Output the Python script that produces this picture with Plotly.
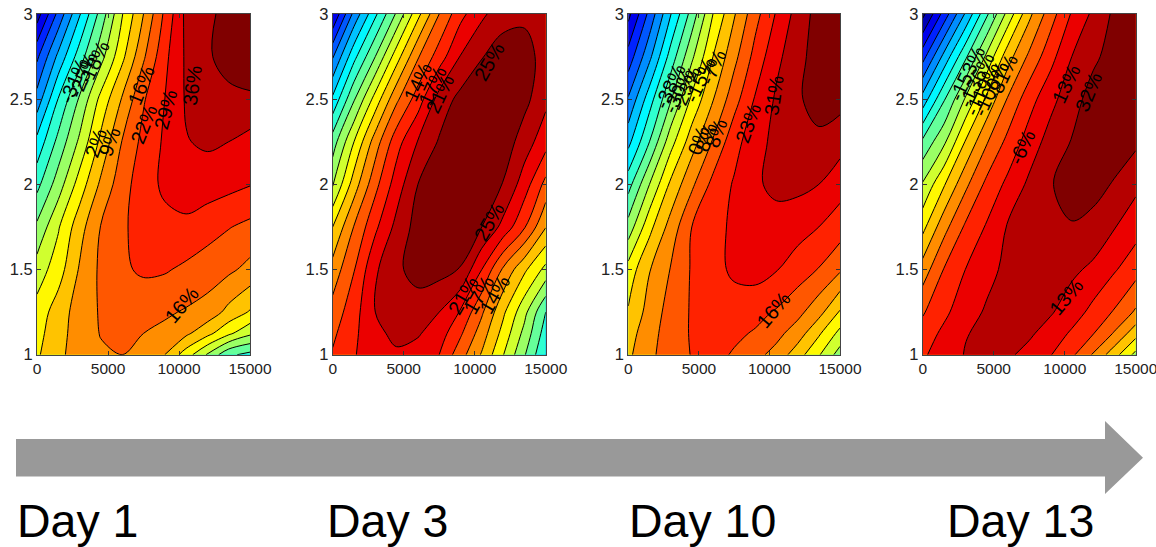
import plotly.graph_objects as go

# Contour-band number at each grid node (band k lies between lines k and k+1)
x_values = [0, 1500, 3000, 4500, 6000, 7500, 9000, 10500, 12000, 13500, 15000]
y_rows = [3, 2.75, 2.5, 2.25, 2, 1.75, 1.5, 1.25, 1.125, 1]

day1 = [
    [1.5, 4.3, 6.9, 9.4, 11.95, 14.0, 16.2, 18.25, 18.8, 19.3, 19.6],
    [3.8, 6.25, 8.5, 10.65, 12.75, 14.85, 16.75, 18.15, 18.9, 19.3, 19.6],
    [5.4, 8.05, 10.15, 12.3, 14.1, 15.9, 17.0, 18.1, 18.6, 18.8, 18.85],
    [7.3, 9.3, 11.2, 13.25, 15.05, 16.3, 17.15, 17.95, 18.15, 18.0, 17.65],
    [8.7, 10.5, 12.45, 14.2, 15.6, 16.55, 17.2, 17.5, 17.5, 17.3, 17.05],
    [10.2, 11.9, 13.6, 15.05, 15.85, 16.4, 16.7, 16.78, 16.4, 16.05, 15.75],
    [11.45, 12.55, 14.1, 15.2, 15.85, 16.15, 16.1, 15.8, 15.5, 15.2, 14.7],
    [12.4, 13.5, 14.45, 15.1, 15.35, 15.35, 15.15, 14.9, 14.6, 13.7, 12.9],
    [12.65, 13.65, 14.45, 15.05, 15.25, 15.0, 14.75, 14.2, 13.3, 12.2, 11.2],
    [12.85, 13.8, 14.4, 14.85, 15, 14.7, 14, 12.5, 10.9, 9.2, 8.7],
]
day3 = [
    [2.0, 5.3, 7.8, 10.15, 12.7, 15.0, 16.7, 17.8, 18.6, 18.8, 18.3],
    [4.9, 7.7, 10, 12.55, 14.9, 16.5, 18.05, 18.95, 19.5, 19.4, 18.6],
    [7.2, 9.9, 12.4, 14.8, 16.5, 18.4, 19.3, 19.7, 19.8, 19.3, 18.25],
    [9.5, 12.0, 14.5, 16.6, 18.05, 19.1, 19.8, 20.0, 19.6, 18.5, 17.4],
    [10.9, 13.5, 15.7, 17.5, 19.0, 19.8, 20.1, 19.8, 18.95, 17.5, 15.7],
    [13.0, 15.05, 16.8, 18.3, 19.4, 19.7, 19.55, 19.0, 17.7, 16.1, 14.05],
    [14.4, 15.95, 17.85, 18.85, 19.3, 19.35, 18.95, 17.0, 14.85, 13.2, 11.7],
    [15.4, 16.6, 18.0, 18.7, 18.6, 18.0, 16.9, 15.15, 13.2, 11.3, 9.0],
    [15.8, 16.8, 17.75, 18.25, 18.1, 17.5, 16.15, 14.5, 12.65, 10.7, 8.5],
    [16.1, 16.95, 17.4, 17.85, 17.6, 17.0, 15.4, 13.9, 12.05, 10.1, 8.0],
]
day10 = [
    [1.7, 4.3, 6.95, 9.4, 12.0, 13.9, 15.65, 17.1, 18.4, 19.4, 19.5],
    [3.4, 5.75, 8.4, 10.8, 13.0, 14.7, 16.35, 17.75, 18.65, 19.5, 19.6],
    [5.1, 7.55, 9.9, 12.2, 13.95, 15.6, 17.1, 18.15, 18.85, 19.45, 19.35],
    [6.7, 9.0, 11.6, 13.55, 15.1, 16.65, 17.6, 18.3, 18.7, 18.75, 18.4],
    [8.6, 11.0, 13.2, 14.8, 16.3, 17.1, 17.85, 18.25, 18.25, 18.0, 17.4],
    [10.4, 12.7, 14.4, 16.0, 16.65, 17.2, 17.55, 17.6, 17.4, 17.0, 16.5],
    [12.4, 13.95, 15.05, 16.1, 16.65, 17.2, 17.4, 17.05, 16.5, 15.95, 15.15],
    [13.1, 14.4, 15.4, 16.1, 16.4, 16.5, 16.3, 15.9, 15.3, 14.35, 12.9],
    [13.55, 14.65, 15.45, 16.1, 16.35, 16.2, 15.9, 15.3, 14.5, 13.15, 11.7],
    [13.8, 14.8, 15.45, 16.05, 16.3, 15.9, 15.3, 14.65, 13.45, 12.1, 10.55],
]
day13 = [
    [0.7, 3.4, 6.1, 8.8, 11.35, 13.75, 15.55, 17.1, 18.2, 19.2, 19.5],
    [3.6, 6.3, 8.8, 11.2, 13.6, 15.2, 16.65, 18.0, 18.8, 19.4, 19.7],
    [6.4, 8.9, 11.1, 13.2, 15.1, 16.6, 17.7, 18.6, 19.4, 19.8, 19.9],
    [9.2, 10.8, 13.05, 14.9, 16.3, 17.45, 18.4, 19.05, 19.5, 19.6, 19.2],
    [11.1, 12.9, 14.75, 16.25, 17.25, 18.2, 18.95, 19.3, 19.4, 18.9, 18.25],
    [12.7, 14.65, 16.15, 17.1, 18.1, 18.4, 18.6, 18.95, 18.65, 18.05, 17.4],
    [14.45, 16.05, 17.0, 17.75, 18.2, 18.35, 18.3, 18.2, 17.8, 17.1, 16.4],
    [15.9, 16.75, 17.65, 18.1, 18.3, 18.3, 18.1, 17.5, 16.7, 15.9, 14.85],
    [16.4, 17.25, 17.95, 18.2, 18.25, 18.15, 17.6, 16.85, 16.05, 14.9, 13.4],
    [16.85, 17.5, 18.05, 18.25, 18.15, 17.7, 17.05, 16.2, 14.9, 13.4, 11.7],
]
panels = [day1, day3, day10, day13]

x_ticks = [0, 5000, 10000, 15000]
y_ticks = [1, 1.5, 2, 2.5, 3]
day_labels = ["Day 1", "Day 3", "Day 10", "Day 13"]

# Contour labels: text, x, y, angle
labels1 = [("-31%", 2650, 2.61, -68), ("-25%", 3250, 2.64, -68), ("-18%", 4050, 2.71, -65),
           ("2%", 4170, 2.24, -70), ("9%", 5100, 2.25, -70),
           ("16%", 7300, 2.58, -68), ("22%", 7500, 2.35, -68), ("29%", 9100, 2.44, -75),
           ("36%", 10900, 2.58, -82), ("16%", 10200, 1.29, -50)]
labels2 = [("14%", 6000, 2.6, -65), ("17%", 7000, 2.58, -65), ("21%", 7550, 2.53, -65),
           ("25%", 11000, 2.72, -60), ("25%", 11000, 1.78, -60),
           ("21%", 9200, 1.35, -60), ("17%", 10300, 1.35, -60), ("14%", 11400, 1.35, -60)]
labels3 = [("-38%", 2950, 2.58, -65), ("-30%", 3550, 2.55, -65), ("-23%", 4100, 2.56, -65),
           ("-15%", 5100, 2.61, -65), ("-7%", 6000, 2.69, -65),
           ("0%", 5000, 2.26, -70), ("8%", 5500, 2.28, -70), ("8%", 6250, 2.3, -70),
           ("23%", 8500, 2.36, -70), ("31%", 10300, 2.52, -82), ("16%", 10300, 1.26, -50)]
labels4 = [("-153%", 3100, 2.65, -65), ("-136%", 3800, 2.61, -65), ("-119%", 4200, 2.56, -65),
           ("-100%", 4800, 2.56, -65), ("-81%", 5600, 2.63, -65),
           ("-6%", 7000, 2.22, -65), ("13%", 10100, 2.59, -65), ("32%", 11700, 2.54, -68),
           ("13%", 10100, 1.34, -50)]
panel_labels = [labels1, labels2, labels3, labels4]

W, H = 1156, 547
panel_left = [37, 332.7, 628.3, 922.7]
panel_right = [250, 545.7, 840, 1135.7]
top_px, bottom_px = 14, 354.7


def jet(t):
    c = lambda v: max(0.0, min(1.0, v))
    r = c(min(4 * t - 1.5, -4 * t + 4.5))
    g = c(min(4 * t - 0.5, -4 * t + 3.5))
    b = c(min(4 * t + 0.5, -4 * t + 2.5))
    return f"rgb({round(r*255)},{round(g*255)},{round(b*255)})"


N = 20
scale = []
for k in range(N):
    col = jet(k / (N - 1))
    scale += [[k / N, col], [(k + 1) / N, col]]

FONT = "Liberation Sans, Arial, sans-serif"
fig = go.Figure()
layout = dict(
    width=W, height=H, margin=dict(l=0, r=0, t=0, b=0, autoexpand=False), autosize=False,
    paper_bgcolor="white", plot_bgcolor="white", showlegend=False,
    font=dict(family=FONT, size=15, color="#222222"),
)
annots = []
for i, z in enumerate(panels):
    n = "" if i == 0 else str(i + 1)
    fig.add_trace(go.Contour(
        x=x_values, y=y_rows, z=z,
        xaxis="x" + n, yaxis="y" + n,
        zmin=0, zmax=N, colorscale=scale, showscale=False,
        contours=dict(start=1, end=19, size=1, coloring="fill", showlines=True),
        line=dict(color="black", width=1, smoothing=1.0),
        hoverinfo="skip",
    ))
    layout["xaxis" + n] = dict(
        domain=[panel_left[i] / W, panel_right[i] / W], range=[0, 15000],
        anchor="y" + n, tickvals=x_ticks, tickformat="d", ticks="inside", ticklen=4, tickcolor="#333333",
        showline=True, linecolor="#444444", linewidth=1, mirror="ticks", ticklabeloverflow="allow",
        showgrid=False, zeroline=False, tickfont=dict(size=15.5, color="#222222"), tickangle=0,
    )
    layout["yaxis" + n] = dict(
        domain=[1 - bottom_px / H, 1 - top_px / H], range=[1, 3],
        anchor="x" + n, tickvals=y_ticks, ticks="inside", ticklen=4, tickcolor="#333333",
        showline=True, linecolor="#444444", linewidth=1, mirror="ticks", ticklabeloverflow="allow",
        showgrid=False, zeroline=False, tickfont=dict(size=16.5, color="#222222"),
    )
    for text, lx, ly, ang in panel_labels[i]:
        annots.append(dict(text=text, x=lx, y=ly, xref="x" + n, yref="y" + n, showarrow=False,
                           textangle=ang, font=dict(size=20, color="black", family=FONT)))

day_left_px = [15, 325, 627, 945]
for text, left in zip(day_labels, day_left_px):
    annots.append(dict(text=text, x=left / W, y=1 - 521 / H, xref="paper", yref="paper",
                       xanchor="left", yanchor="middle", showarrow=False,
                       font=dict(size=46.5, color="black", family=FONT)))

px = lambda v: v / W
py = lambda v: 1 - v / H
arrow = (f"M {px(16)} {py(439)} L {px(1105)} {py(439)} L {px(1105)} {py(421)} "
         f"L {px(1143)} {py(457.7)} L {px(1105)} {py(494)} L {px(1105)} {py(476.5)} "
         f"L {px(16)} {py(476.5)} Z")
layout["shapes"] = [dict(type="path", xref="paper", yref="paper", path=arrow,
                         fillcolor="#999999", line=dict(width=0))]
layout["annotations"] = annots
fig.update_layout(**layout)
fig.write_html(
    "out.html", config={"displayModeBar": False, "responsive": False},
    post_script=("document.documentElement.style.overflow='hidden';"
                 "document.body.style.margin='0';document.body.style.padding='0';"
                 "var g=document.querySelector('.plotly-graph-div');"
                 "g.style.position='fixed';g.style.left='0';g.style.top='0';"),
)
